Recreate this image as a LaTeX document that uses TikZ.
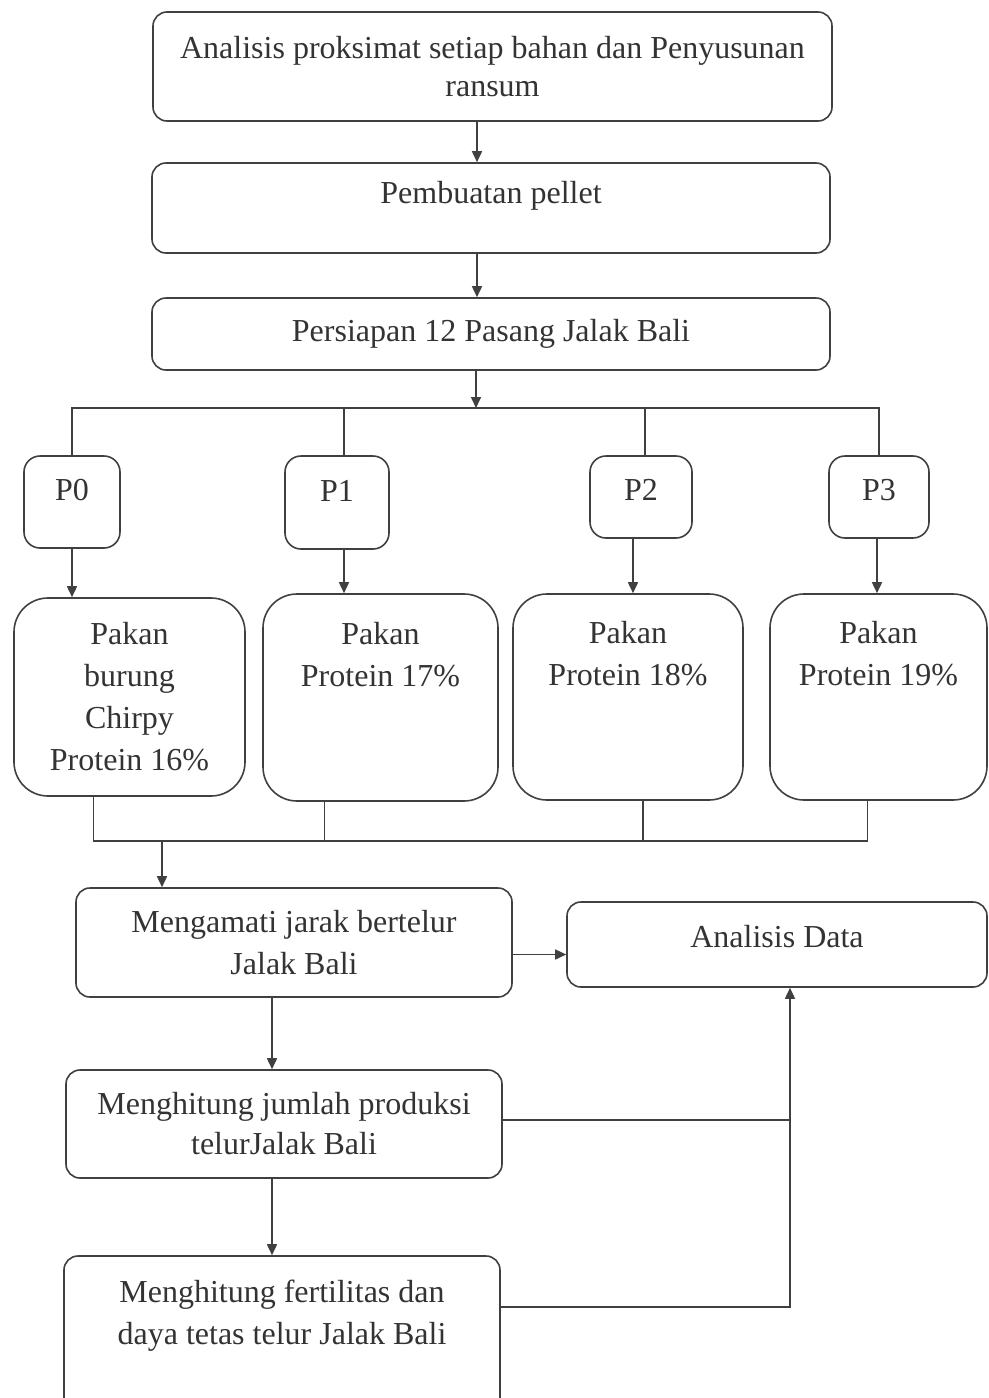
\documentclass[tikz,border=0pt]{standalone}
\usepackage{fontspec}
\setmainfont{Liberation Serif}
\usetikzlibrary{arrows.meta}

\tikzset{
  box/.style={draw=black!75, line width=0.8pt, rounded corners=7pt, align=center,
    inner sep=2pt, text=black!80, font=\fontsize{16}{21}\selectfont},
  pbox/.style={box, rounded corners=8pt},
  feedbox/.style={box, rounded corners=17pt},
  wire/.style={draw=black!75, line width=0.8pt},
  arr/.style={wire, -{Triangle[length=5.5pt,width=5pt]}}
}

\begin{document}
\begin{tikzpicture}[x=0.5pt, y=-0.5pt]
\useasboundingbox (0,0) rectangle (989,1398);
\clip (0,0) rectangle (989,1398);

%% upper steps
\node[box, minimum width=339.5pt, minimum height=54.5pt, font=\fontsize{16}{19}\selectfont] (anl) at (492.5,66.5)
  {Analisis proksimat setiap bahan dan Penyusunan\\ransum};
\node[box, minimum width=339pt, minimum height=45pt, text depth=15.5pt] (pel) at (491,208)
  {Pembuatan pellet};
\node[box, minimum width=339pt, minimum height=36pt] (pas) at (491,334)
  {Persiapan 12 Pasang Jalak Bali};

%% treatments
\node[pbox, minimum width=48pt, minimum height=46pt, text depth=12pt] (p0) at (72,502) {P0};
\node[pbox, minimum width=52pt, minimum height=46.5pt, text depth=12pt] (p1) at (337,502.5) {P1};
\node[pbox, minimum width=51pt, minimum height=41pt, text depth=7pt] (p2) at (641,497) {P2};
\node[pbox, minimum width=50pt, minimum height=41pt, text depth=7pt] (p3) at (879,497) {P3};

%% feeds
\node[feedbox, minimum width=115.5pt, minimum height=99pt] (k0) at (129.5,697)
  {Pakan\\burung\\Chirpy\\Protein 16\%};
\node[feedbox, minimum width=117.5pt, minimum height=103.5pt, text depth=43.5pt] (k1) at (380.5,697.5)
  {Pakan\\Protein 17\%};
\node[feedbox, minimum width=115pt, minimum height=103pt, text depth=43.5pt] (k2) at (628,697)
  {Pakan\\Protein 18\%};
\node[feedbox, minimum width=108.5pt, minimum height=103pt, text depth=43.5pt] (k3) at (878.5,697)
  {Pakan\\Protein 19\%};

%% observations
\node[box, minimum width=218pt, minimum height=54.5pt] (jar) at (294,942.5)
  {Mengamati jarak bertelur\\Jalak Bali};
\node[box, minimum width=210pt, minimum height=42.5pt, text depth=8.5pt] (dat) at (777,944.5)
  {Analisis Data};
\node[box, minimum width=218pt, minimum height=54pt, font=\fontsize{16}{20}\selectfont] (prd) at (284,1124)
  {Menghitung jumlah produksi\\telurJalak Bali};
\node[box, minimum width=218pt, minimum height=82pt, text depth=25.5pt] (fer) at (282,1338)
  {Menghitung fertilitas dan\\daya tetas telur Jalak Bali};

%% helper points
\coordinate (spine) at (477,0);
\coordinate (topbus) at (476,408);
\coordinate (lowbus) at (162,841);
\coordinate (stem) at (272,0);
\coordinate (back) at (790,0);

%% connectors, top part
\draw[arr] (anl.south -| spine) -- (pel.north -| spine);
\draw[arr] (pel.south -| spine) -- (pas.north -| spine);
\draw[arr] (pas.south -| topbus) -- (topbus);
\draw[wire] (p0.north) |- (topbus) -| (p3.north);
\draw[wire] ([xshift=3.5pt]p1.north) -- ([xshift=3.5pt]p1.north |- topbus);
\draw[wire] ([xshift=2pt]p2.north) -- ([xshift=2pt]p2.north |- topbus);
\draw[arr] (p0.south) -- (p0.south |- k0.north);
\draw[arr] ([xshift=3.5pt]p1.south) -- ([xshift=3.5pt]p1.south |- k1.north);
\draw[arr] ([xshift=-4pt]p2.south) -- ([xshift=-4pt]p2.south |- k2.north);
\draw[arr] ([xshift=-1pt]p3.south) -- ([xshift=-1pt]p3.south |- k3.north);

%% connectors, joining the feeds
\draw[wire] ([xshift=-18pt]k0.south) |- (lowbus) -| ([xshift=-5.5pt]k3.south);
\draw[wire] ([xshift=-28pt]k1.south) -- ([xshift=-28pt]k1.south |- lowbus);
\draw[wire] ([xshift=7.5pt]k2.south) -- ([xshift=7.5pt]k2.south |- lowbus);
\draw[arr] (lowbus) -- (lowbus |- jar.north);

%% connectors, bottom part
\draw[arr] (jar.south -| stem) -- (prd.north -| stem);
\draw[arr] (prd.south -| stem) -- (fer.north -| stem);
\draw[arr] ([yshift=-6pt]jar.east) -- ([yshift=-6pt]jar.east -| dat.west);
\draw[wire] ([yshift=2pt]prd.east) -- ([yshift=2pt]prd.east -| back);
\draw[arr] ([yshift=15.5pt]fer.east) -| (back |- dat.south);
\end{tikzpicture}
\end{document}
